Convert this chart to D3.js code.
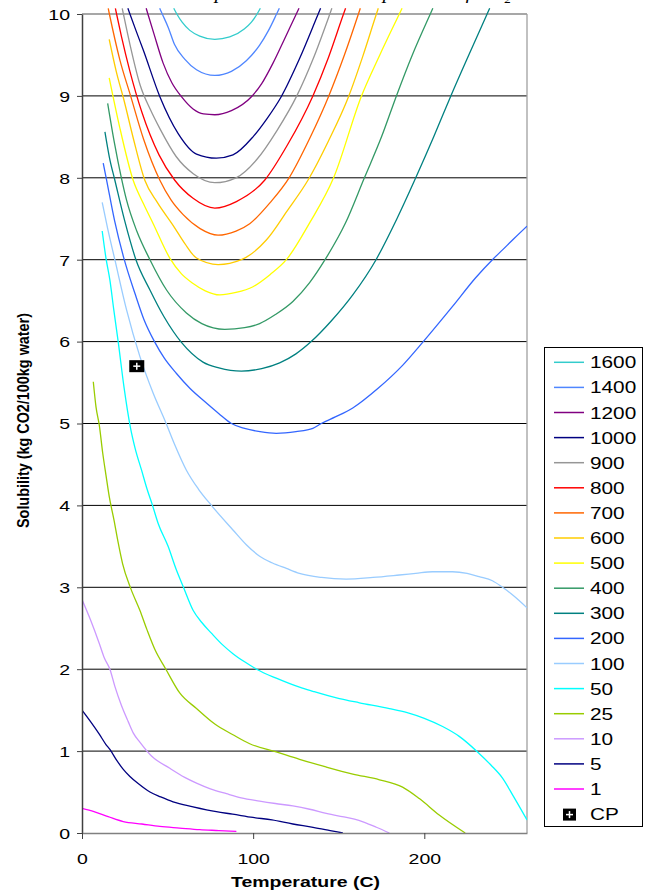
<!DOCTYPE html>
<html><head><meta charset="utf-8">
<script src="https://cdn.jsdelivr.net/npm/d3@7/dist/d3.min.js"></script>
<style>body{margin:0;background:#fff;} svg{display:block;}</style>
</head><body>
<svg id="chart" width="651" height="893"></svg>
<script>
// ---------- DATA ----------
const pressures = ["1600","1400","1200","1000","900","800","700","600","500","400","300","200","100","50","25","10","5","1"];
const colors = ["#33CCCC","#4F86FF","#800080","#000080","#969696","#FF0000","#FF6600","#FFCC00","#FFFF00","#339966","#008080","#3366FF","#99CCFF","#00FFFF","#99CC00","#CC99FF","#000080","#FF00FF"];

const p1600 = [[53.6,10.07],[55.4,10],[58.5,9.9],[63,9.8],[68.8,9.73],[77.6,9.69],[86.3,9.72],[95,9.82],[99,9.9],[102.3,10],[104.2,10.07]];
const p1400 = [[45.4,10.07],[46.9,10],[50.5,9.83],[54,9.63],[60,9.45],[66.9,9.32],[77.6,9.25],[87.3,9.30],[96,9.43],[103.8,9.62],[109,9.8],[113.7,10],[115.3,10.07]];
const p1200 = [[37.5,10.07],[38.5,10],[42,9.76],[47.4,9.40],[52.5,9.16],[58.1,8.99],[64.9,8.84],[71,8.78],[77.6,8.77],[87.3,8.82],[99,8.99],[105,9.15],[111.6,9.40],[118,9.68],[125.2,10],[126.8,10.07]];
const p1000 = [[26.8,10.07],[28,10],[31.5,9.8],[35.8,9.56],[45.5,8.99],[56.2,8.54],[66.9,8.29],[78.5,8.24],[88.2,8.28],[99.9,8.50],[108,8.72],[116.4,8.99],[127,9.45],[138,10],[139.4,10.07]];
const p900 = [[23.5,10.07],[24.2,10],[28,9.63],[34,9.13],[40,8.83],[45.5,8.60],[55,8.26],[65,8.05],[77.6,7.94],[90,8.0],[102,8.22],[114,8.58],[125.5,9.0],[135,9.45],[144.8,10],[146,10.07]];
const p800 = [[19.5,10.07],[20.2,10],[23.1,9.72],[28,9.3],[35,8.8],[45,8.28],[54.2,7.97],[64.9,7.75],[77.6,7.63],[90.2,7.71],[106.7,7.97],[120,8.4],[134.9,9.0],[144,9.47],[152.8,10],[154,10.07]];
const p700 = [[15.3,10.07],[16,10],[22,9.45],[28.4,9.0],[36,8.47],[45.5,7.97],[52,7.73],[59.1,7.55],[69,7.38],[79.5,7.30],[90,7.35],[98,7.44],[110,7.7],[121,8.0],[133,8.48],[144.2,9.0],[153,9.48],[161.5,10],[162.6,10.07]];
const p600 = [[15.9,9.69],[20,9.3],[24.5,8.95],[30,8.48],[36.7,7.97],[44,7.7],[53.2,7.42],[60,7.2],[66.9,7.02],[79.5,6.94],[93.1,7.0],[107.7,7.24],[120,7.6],[132,7.97],[144,8.45],[155.9,9.0],[164,9.48],[172,10],[173.1,10.07]];
const p500 = [[15.9,9.22],[22,8.62],[29.9,7.97],[36,7.68],[41.6,7.44],[51.3,7.02],[58,6.83],[64.9,6.71],[72,6.62],[80.5,6.57],[90,6.6],[99.9,6.67],[110,6.82],[119.4,7.0],[133,7.45],[147,8.0],[163.3,9.0],[174,9.5],[185.4,10],[187,10.07]];
const p400 = [[15,8.91],[19,8.42],[23,8.0],[26,7.73],[32,7.35],[39.7,7.0],[49.4,6.63],[61,6.35],[70,6.22],[83.4,6.15],[95,6.17],[103.8,6.22],[113,6.33],[123.2,6.49],[133,6.72],[142,7.0],[154,7.45],[165,8.0],[175,8.5],[183.7,9.0],[193,9.5],[203.5,10],[205,10.07]];
const p300 = [[13.4,8.56],[16,8.25],[19.2,7.97],[25,7.47],[31.5,7.0],[39.7,6.63],[48,6.3],[58.1,5.99],[70.7,5.75],[80,5.68],[93.1,5.64],[105,5.67],[115.5,5.74],[125,5.85],[133.9,6.0],[146,6.26],[158.2,6.57],[171.8,7.0],[184,7.5],[195,8.0],[205.5,8.5],[215.5,9.0],[226,9.5],[236.7,10],[238.2,10.07]];
const p200 = [[12.4,8.18],[14.4,7.97],[19,7.48],[24.7,7.0],[30.9,6.59],[36,6.28],[42.6,5.99],[48,5.8],[55.2,5.61],[63,5.43],[72.7,5.25],[80,5.12],[87.3,5.0],[95,4.94],[104,4.9],[113.5,4.88],[125,4.9],[134.9,4.94],[139.8,5.0],[148,5.08],[158.2,5.19],[173,5.43],[187.3,5.71],[199.4,6.0],[216.5,6.43],[230,6.78],[239.8,7.0],[245.7,7.12],[252,7.25],[260,7.41]];
const p100 = [[11.8,7.70],[15,7.38],[19.2,7.0],[26,6.39],[33.8,5.82],[41.6,5.37],[48.4,5.04],[54,4.75],[61,4.43],[68,4.2],[75.6,4.0],[88.2,3.70],[96,3.52],[103.8,3.38],[111,3.3],[119.4,3.23],[127,3.17],[140,3.12],[154.3,3.10],[170,3.12],[185.4,3.15],[195,3.17],[204.8,3.19],[216.5,3.19],[225,3.17],[232,3.13],[239.8,3.08],[245.7,3.0],[252,2.9],[260,2.75]];
const p50 = [[11.8,7.35],[14,7.02],[16.3,6.75],[18.5,6.4],[21.2,5.99],[24.5,5.45],[28.3,4.95],[31,4.7],[34.8,4.43],[38,4.2],[41.2,4.0],[44.5,3.78],[50.3,3.50],[55,3.22],[59.1,3.01],[64.9,2.72],[70,2.57],[75.6,2.44],[82,2.3],[88.2,2.19],[95,2.09],[102,2.0],[113.5,1.89],[127.1,1.78],[134.9,1.73],[150.4,1.64],[162.1,1.59],[179.6,1.52],[190,1.47],[200,1.40],[210.7,1.30],[220.4,1.18],[231.1,0.99],[238.9,0.83],[245.7,0.67],[252,0.45],[260,0.16]];
const p25 = [[6.6,5.51],[8.2,5.2],[10.1,4.98],[12.1,4.64],[14,4.37],[15.9,4.11],[18.7,3.82],[21,3.56],[23.7,3.29],[28.4,2.99],[33.8,2.72],[38,2.48],[42.6,2.24],[49,2.0],[57.1,1.71],[66.9,1.52],[77.6,1.33],[88.2,1.20],[98,1.09],[113.5,0.99],[127.1,0.90],[142,0.81],[158.2,0.72],[173.8,0.65],[187.3,0.56],[197.1,0.42],[208.7,0.22],[223.9,0]];
const p10 = [[0,2.85],[5,2.6],[10,2.32],[13,2.14],[16.3,2.0],[19.2,1.79],[23,1.56],[27,1.36],[30,1.22],[33.8,1.11],[40.6,0.94],[51.3,0.79],[60,0.68],[66.9,0.61],[75,0.54],[84.4,0.48],[93,0.43],[103.8,0.39],[113,0.36],[123.2,0.33],[133,0.29],[142.7,0.24],[152,0.2],[159.2,0.17],[165,0.13],[172,0.07],[179.6,0]];
const p5 = [[0,1.5],[5,1.36],[10,1.21],[14,1.08],[16.3,1.02],[20.2,0.89],[24,0.78],[28,0.69],[33,0.6],[39.7,0.50],[46,0.44],[53.2,0.38],[64.9,0.32],[78.5,0.26],[88,0.23],[99.9,0.19],[111,0.16],[123.2,0.11],[135,0.07],[145,0.03],[152.4,0]];
const p1 = [[0,0.30],[7,0.26],[15.3,0.20],[24.1,0.14],[35,0.11],[45.5,0.08],[57,0.06],[68.8,0.04],[80,0.03],[90.2,0.02]];
const seriesValues = [p1600,p1400,p1200,p1000,p900,p800,p700,p600,p500,p400,p300,p200,p100,p50,p25,p10,p5,p1];

const cpPoint = [32, 5.70];
const cpLabel = "CP";
const yTicks = [0,1,2,3,4,5,6,7,8,9,10];
const xTicks = [0,100,200];
const xDomain = [0,260];
const yDomain = [0,10];
const xTitle = "Temperature (C)";
const yTitle = "Solubility (kg CO2/100kg water)";
const titleMain = "Carbon dioxide in water: temperature at constant pressure of CO";
const titleSub = "2";

// ---------- LAYOUT ----------
const K = 1.3; // horizontal text stretch seen in the reference
const FONT = "'Liberation Sans', Arial, sans-serif";
const L = 82, R = 527, T = 14, B = 833;
const svg = d3.select("#chart");
const x = d3.scaleLinear().domain(xDomain).range([L, R]);
const y = d3.scaleLinear().domain(yDomain).range([B, T]);

// title (almost entirely above the visible area, as in the reference)
const tt = svg.append("text").attr("font-family","'Liberation Serif', 'Times New Roman', serif")
  .attr("font-style","italic").attr("font-size",18).attr("fill","#000");
tt.append("tspan").text(titleMain);
tt.append("tspan").attr("font-size",12).attr("dy",4).text(titleSub);
(function(){
  const s = titleMain;
  const i1 = s.indexOf("temperature")+3, i2 = s.indexOf("pressure");
  const a = tt.node().getStartPositionOfChar(i1).x, b = tt.node().getStartPositionOfChar(i2).x;
  const k = (383-215)/(b-a);
  tt.attr("transform",`translate(${215-k*a},-1) scale(${k},1)`);
})();

// gridlines
svg.append("g").selectAll("line").data(yTicks.filter(d=>d>0 && d<10)).join("line")
  .attr("x1",L).attr("x2",R).attr("y1",d=>y(d)).attr("y2",d=>y(d))
  .attr("stroke","#000").attr("stroke-width",1);
// frame top/right
svg.append("line").attr("x1",L).attr("x2",R).attr("y1",y(10)).attr("y2",y(10)).attr("stroke","#8a8a8a").attr("stroke-width",1.3);
svg.append("line").attr("x1",R).attr("x2",R).attr("y1",T).attr("y2",B).attr("stroke","#a0a0a0").attr("stroke-width",1.3);

// clip (curves run a few pixels past the top, as in the reference)
svg.append("clipPath").attr("id","plotclip").append("rect").attr("x",L).attr("y",T-8).attr("width",R-L).attr("height",B-T+9);

// curves
const line = d3.line().x(d=>x(d[0])).y(d=>y(d[1])).curve(d3.curveMonotoneX);
const gCurves = svg.append("g").attr("clip-path","url(#plotclip)");
seriesValues.forEach((pts,i)=>{
  gCurves.append("path").attr("d",line(pts)).attr("fill","none")
    .attr("stroke",colors[i]).attr("stroke-width",1.3).attr("stroke-linejoin","round");
});

// axes
const yAxis = svg.append("g").attr("transform",`translate(${L},0)`)
  .call(d3.axisLeft(y).tickValues(yTicks).tickSize(5).tickSizeOuter(0).tickFormat(d3.format("d")));
yAxis.select(".domain").attr("stroke","#404040").attr("stroke-width",1.5);
yAxis.selectAll(".tick line").attr("stroke","#404040");
yAxis.selectAll(".tick text").attr("x",null).attr("dy",null)
  .attr("transform",`translate(-12,5.3) scale(${K},1)`)
  .attr("font-family",FONT).attr("font-size",15).attr("fill","#000");

const xAxis = svg.append("g").attr("transform",`translate(0,${B})`)
  .call(d3.axisBottom(x).tickValues(xTicks).tickSize(6).tickSizeOuter(0).tickFormat(d3.format("d")));
xAxis.select(".domain").attr("stroke","#808080").attr("stroke-width",1.5);
xAxis.selectAll(".tick line").attr("stroke","#404040");
xAxis.selectAll(".tick text").attr("y",null).attr("dy",null)
  .attr("transform",`translate(0,30.5) scale(${K},1)`)
  .attr("font-family",FONT).attr("font-size",15).attr("fill","#000");

// axis titles
svg.append("text").attr("transform",`translate(305.5,887) scale(${K},1)`).attr("text-anchor","middle")
  .attr("font-family",FONT).attr("font-weight","bold").attr("font-size",15).text(xTitle);
const yt = svg.append("text").attr("transform",`translate(29,420.5) rotate(-90) scale(1,1.3)`).attr("text-anchor","middle")
  .attr("font-family",FONT).attr("font-weight","bold").attr("font-size",13).text(yTitle);
yt.attr("textLength",215).attr("lengthAdjust","spacingAndGlyphs");

// CP marker
function cpMarker(g, cx, cy, w, h){
  g.append("rect").attr("x",cx-w/2).attr("y",cy-h/2).attr("width",w).attr("height",h).attr("fill","#000");
  g.append("line").attr("x1",cx-3.5).attr("x2",cx+3.5).attr("y1",cy).attr("y2",cy).attr("stroke","#fff").attr("stroke-width",1.5);
  g.append("line").attr("x1",cx).attr("x2",cx).attr("y1",cy-3.5).attr("y2",cy+3.5).attr("stroke","#fff").attr("stroke-width",1.5);
}
cpMarker(svg.append("g"), x(cpPoint[0]), y(cpPoint[1]), 15, 12);

// legend
const lg = svg.append("g");
lg.append("rect").attr("x",544.5).attr("y",347.5).attr("width",98).attr("height",479)
  .attr("fill","#fff").attr("stroke","#000").attr("stroke-width",1);
const legendItems = pressures.map((p,i)=>({label:p, color:colors[i]})).concat([{label:cpLabel, marker:true}]);
legendItems.forEach((d,i)=>{
  const cy = 362.3 + i*25.1;
  if(d.marker){ cpMarker(lg, 569.5, cy+0.5, 13, 12); }
  else {
    lg.append("line").attr("x1",554).attr("x2",584).attr("y1",cy).attr("y2",cy)
      .attr("stroke",d.color).attr("stroke-width",1.5);
  }
  lg.append("text").attr("transform",`translate(590,${cy+6}) scale(${K},1)`)
    .attr("font-family",FONT).attr("font-size",16).attr("fill","#000").text(d.label);
});
</script>
</body></html>
